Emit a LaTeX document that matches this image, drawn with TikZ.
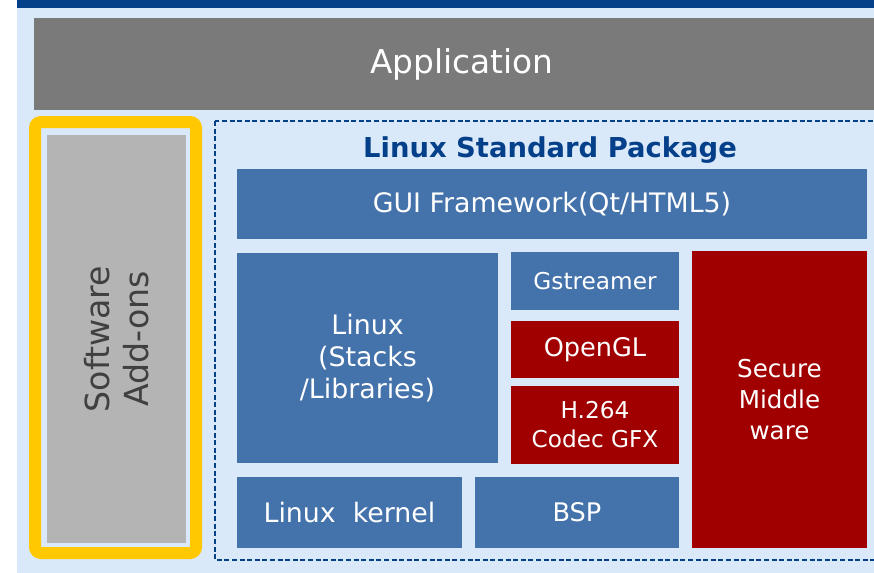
\documentclass[tikz,border=0pt]{standalone}
\usepackage{fontspec}
\setmainfont{DejaVu Sans}
\definecolor{topblue}{RGB}{4,63,138}
\definecolor{paleblue}{RGB}{218,233,250}
\definecolor{blockblue}{RGB}{68,114,170}
\definecolor{blockred}{RGB}{160,0,0}
\definecolor{appgray}{RGB}{122,122,122}
\definecolor{addongray}{RGB}{180,180,180}
\definecolor{addontext}{RGB}{64,64,64}
\definecolor{frameyellow}{RGB}{255,200,0}
\tikzstyle{block}=[inner sep=0pt,align=center,text=white,font=\fontsize{13.4}{16}\selectfont]
\tikzstyle{blueblock}=[block,fill=blockblue]
\tikzstyle{redblock}=[block,fill=blockred]

\begin{document}
\begin{tikzpicture}[x=0.5pt,y=-0.5pt]
\clip (0,0) rectangle (874,573);
\fill[paleblue] (17,8) rectangle (884,583);
\fill[topblue] (17,-10) rectangle (884,8);
\node [block,fill=appgray,minimum width=428pt,minimum height=46pt,
  font=\fontsize{16.4}{20}\selectfont] (app) at (462,64) {Application};
% add-ons column
\draw [frameyellow,line width=6pt,rounded corners=3pt] (35,122) rectangle (196,553);
\node [block,fill=addongray,rotate=90,minimum width=204pt,minimum height=69.5pt,
  text=addontext,font=\fontsize{16.6}{19.5}\selectfont] (addons) at (116.5,339) {Software\\Add-ons};
% standard package
\draw [topblue,line width=1.4pt,dash pattern=on 2.5pt off 1.3pt] (215,121) rectangle (884,560);
\node [text=topblue,font=\bfseries\fontsize{13.7}{16}\selectfont] (lsp) at (550,150) {Linux Standard Package};
\node [blueblock,minimum width=315pt,minimum height=35pt] (gui) at (552,204) {GUI Framework(Qt/HTML5)};
\node [blueblock,minimum width=130.5pt,minimum height=105pt] (stacks) at (367.5,358) {Linux\\(Stacks\\/Libraries)};
\node [blueblock,minimum width=84pt,minimum height=29pt,font=\fontsize{11.6}{14}\selectfont] (gst) at (595,281) {Gstreamer};
\node [redblock,minimum width=84pt,minimum height=28.5pt,font=\fontsize{12.8}{15}\selectfont] (gl) at (595,349.5) {OpenGL};
\node [redblock,minimum width=84pt,minimum height=39pt,font=\fontsize{11.6}{14.5}\selectfont] (codec) at (595,425) {H.264\\Codec GFX};
\node [redblock,minimum width=87.5pt,minimum height=148.5pt,font=\fontsize{12.3}{15.5}\selectfont] (secure) at (779.5,399.5) {Secure\\Middle\\ware};
\node [blueblock,minimum width=112.5pt,minimum height=35.5pt] (kernel) at (349.5,512.5) {Linux~~kernel};
\node [blueblock,minimum width=102pt,minimum height=35.5pt,font=\fontsize{12.8}{15}\selectfont] (bsp) at (577,512.5) {BSP};
\end{tikzpicture}
\end{document}
